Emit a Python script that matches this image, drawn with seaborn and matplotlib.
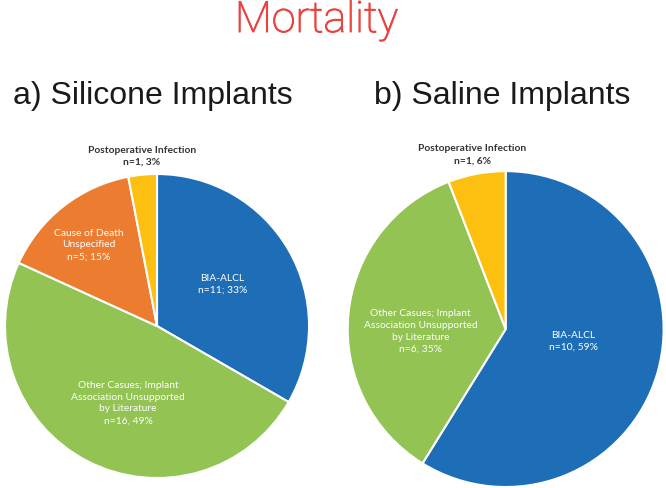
import matplotlib
matplotlib.use("Agg")
import matplotlib.pyplot as plt
import matplotlib.patheffects as pe
import seaborn as sns

# Silicone implants
silicone_labels = ["BIA-ALCL\nn=11; 33%",
                   "Other Casues; Implant\nAssociation Unsupported\nby Literature\nn=16, 49%",
                   "Cause of Death\nUnspecified\nn=5; 15%",
                   "Postoperative Infection\nn=1, 3%"]
silicone_counts = [11, 16, 5, 1]
silicone_colors = ["#1D6DB7", "#92C353", "#EC7C30", "#FEC010"]

# Saline implants
saline_labels = ["BIA-ALCL\nn=10, 59%",
                 "Other Casues; Implant\nAssociation Unsupported\nby Literature\nn=6, 35%",
                 "Postoperative Infection\nn=1, 6%"]
saline_counts = [10, 6, 1]
saline_colors = ["#1D6DB7", "#92C353", "#FEC010"]

sns.set_theme(style="white")
plt.rcParams["font.family"] = ["Lato", "DejaVu Sans"]

fig = plt.figure(figsize=(6.66, 4.89), dpi=100)
fig.patch.set_facecolor("white")

ax1 = fig.add_axes([0.0075, 0.0204, 0.4565, 0.6217])
ax2 = fig.add_axes([0.522, 0.002, 0.4745, 0.646])


def draw_pie(ax, counts, colors, labels, label_pos):
    ax.pie(counts, colors=colors, startangle=90, counterclock=False,
           wedgeprops=dict(edgecolor="white", linewidth=1.5))
    ax.set_xlim(-1, 1)
    ax.set_ylim(-1, 1)
    ax.set_aspect("equal")
    ax.axis("off")
    for lab, (x, y) in zip(labels, label_pos):
        outside = lab.startswith("Postoperative")
        ax.text(x, y, lab, ha="center", va="center", fontsize=7.4,
                linespacing=1.4, clip_on=False,
                color="#333333" if outside else "white",
                fontweight="bold" if outside else "normal")


draw_pie(ax1, silicone_counts, silicone_colors, silicone_labels,
         [(0.43, 0.28), (-0.19, -0.5), (-0.45, 0.54), (-0.1, 1.125)])
draw_pie(ax2, saline_counts, saline_colors, saline_labels,
         [(0.43, -0.07), (-0.54, -0.01), (-0.21, 1.11)])

fig.text(0.475, 0.9325, "Mortality", ha="center", va="baseline", fontsize=31,
         color="#E8433D", family=["Roboto", "DejaVu Sans"], fontweight="light",
         path_effects=[pe.withStroke(linewidth=0.7, foreground="#E8433D")])
sub_font = ["Liberation Sans", "DejaVu Sans"]
fig.text(0.230, 0.787, "a) Silicone Implants", ha="center", va="baseline",
         fontsize=23, color="#1a1a1a", family=sub_font)
fig.text(0.7545, 0.787, "b) Saline Implants", ha="center", va="baseline",
         fontsize=23, color="#1a1a1a", family=sub_font)

fig.savefig("out.png", dpi=100, facecolor="white")
